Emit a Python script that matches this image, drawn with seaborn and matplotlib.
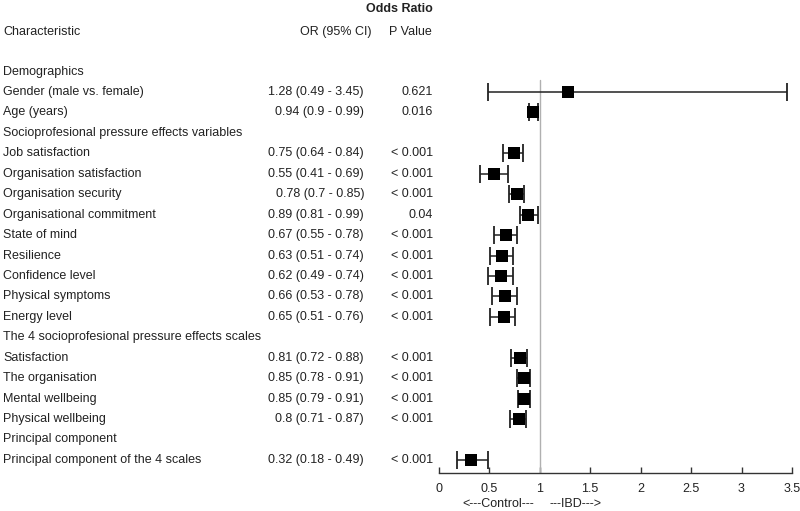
import numpy as np
import pandas as pd
import seaborn as sns
import matplotlib.pyplot as plt
from matplotlib.transforms import blended_transform_factory

# ------------------------
# Data
# ------------------------
labels = [
    "Demographics",
    "Gender (male vs. female)",
    "Age (years)",
    "Socioprofesional pressure effects variables",
    "Job satisfaction",
    "Organisation satisfaction",
    "Organisation security",
    "Organisational commitment",
    "State of mind",
    "Resilience",
    "Confidence level",
    "Physical symptoms",
    "Energy level",
    "The 4 socioprofesional pressure effects scales",
    "Satisfaction",
    "The organisation",
    "Mental wellbeing",
    "Physical wellbeing",
    "Principal component",
    "Principal component of the 4 scales",
]
odds = [None, 1.28, 0.94, None, 0.75, 0.55, 0.78, 0.89, 0.67, 0.63, 0.62, 0.66, 0.65,
        None, 0.81, 0.85, 0.85, 0.8, None, 0.32]
ci_low = [None, 0.49, 0.9, None, 0.64, 0.41, 0.7, 0.81, 0.55, 0.51, 0.49, 0.53, 0.51,
          None, 0.72, 0.78, 0.79, 0.71, None, 0.18]
ci_high = [None, 3.45, 0.99, None, 0.84, 0.69, 0.85, 0.99, 0.78, 0.74, 0.74, 0.78, 0.76,
           None, 0.88, 0.91, 0.91, 0.87, None, 0.49]
p_values = ["", "0.621", "0.016", "", "< 0.001", "< 0.001", "< 0.001", "0.04", "< 0.001",
            "< 0.001", "< 0.001", "< 0.001", "< 0.001", "", "< 0.001", "< 0.001",
            "< 0.001", "< 0.001", "", "< 0.001"]
x_ticks = [0, 0.5, 1, 1.5, 2, 2.5, 3, 3.5]

df = pd.DataFrame({"Label": labels, "OR": odds, "Low": ci_low, "High": ci_high, "P": p_values})
df["Row"] = np.arange(len(df))
est = df.dropna(subset=["OR"]).copy()
est[["OR", "Low", "High"]] = est[["OR", "Low", "High"]].astype(float)

# ------------------------
# Plot
# ------------------------
sns.set_theme(style="white")
plt.rcParams["font.family"] = ["Liberation Sans", "DejaVu Sans"]
plt.rcParams["font.size"] = 9

fig = plt.figure(figsize=(8, 5.11), dpi=100)
ax = fig.add_axes([438.5 / 800, 38 / 511, (792 - 438.5) / 800, (473 - 62) / 511])

# reference line at OR = 1
ax.plot([1, 1], [19.64, 0.41], color="#b0b0b0", lw=1, zorder=1)

# confidence intervals
ax.errorbar(est["OR"], est["Row"],
            xerr=[est["OR"] - est["Low"], est["High"] - est["OR"]],
            fmt="none", ecolor="#222222", elinewidth=1.1, capsize=6.2, capthick=1.3, zorder=2)
sns.scatterplot(data=est, x="OR", y="Row", marker="s", s=70, color="black",
                edgecolor="black", linewidth=0, ax=ax, zorder=3, legend=False)

ax.set_xlim(0, 3.5)
ax.set_ylim(19.64, -0.47)
ax.set_xticks(x_ticks)
ax.set_xticklabels([f"{t:g}" for t in x_ticks])
ax.set_yticks([])
ax.set_xlabel("")
ax.set_ylabel("")
for side in ["top", "right", "left"]:
    ax.spines[side].set_visible(False)
ax.spines["bottom"].set_color("#333333")
ax.spines["bottom"].set_linewidth(1)
ax.tick_params(axis="x", direction="in", length=4, width=1, color="#333333",
               pad=7, labelsize=9, labelcolor="#222222", bottom=True)

# ------------------------
# Table text
# ------------------------
tr = blended_transform_factory(fig.transFigure, ax.transData)
txt = dict(transform=tr, va="center", fontsize=9, color="#222222", clip_on=False)

ax.text(399 / 800, -3.08, "Odds Ratio", ha="center", fontweight="bold", **txt)
ax.text(3 / 800, -1.95, "Characteristic", ha="left", **txt)
ax.text(372 / 800, -1.95, "OR (95% CI)", ha="right", **txt)
ax.text(432 / 800, -1.95, "P Value", ha="right", **txt)

for _, r in df.iterrows():
    ax.text(3 / 800, r["Row"], r["Label"], ha="left", **txt)
    if pd.notna(r["OR"]):
        ax.text(364 / 800, r["Row"], f"{r['OR']:g} ({r['Low']:g} - {r['High']:g})", ha="right", **txt)
        ax.text(433 / 800, r["Row"], r["P"], ha="right", **txt)

ax.text(0.594, 21.15, "<---Control---", ha="center", va="center", fontsize=9,
        color="#222222", clip_on=False)
ax.text(1.36, 21.15, "---IBD--->", ha="center", va="center", fontsize=9,
        color="#222222", clip_on=False)

fig.savefig("out.png", dpi=100)
